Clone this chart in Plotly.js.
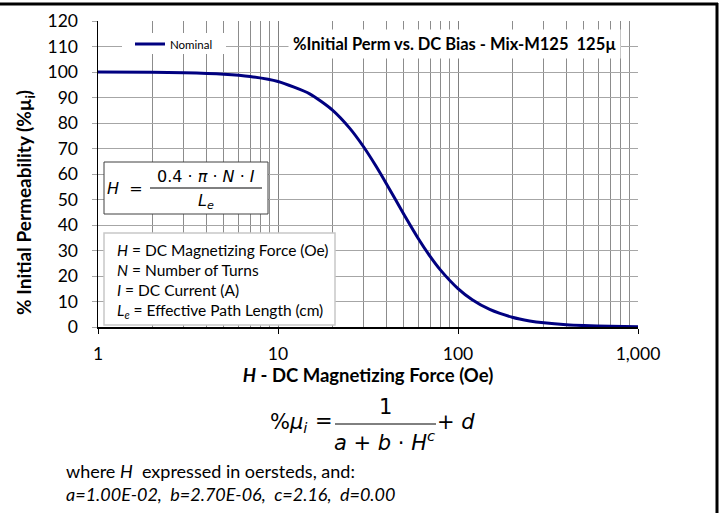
<!DOCTYPE html>
<html>
<head>
<meta charset="utf-8">
<script src="https://cdn.plot.ly/plotly-3.0.1.min.js"></script>
<style>html,body{margin:0;padding:0;background:#fff;}#chart{width:722px;height:513px;}</style>
</head>
<body>
<div id="chart"></div>
<script>
// Data
const H = [1, 2, 3, 5, 7, 10, 15, 20, 25, 30, 35, 40, 50, 60, 70, 80, 100, 120, 150, 200, 250, 300, 400, 500, 700, 1000];
const permNominal = [99.97, 99.88, 99.71, 99.13, 98.23, 96.25, 91.43, 85.15, 77.98, 70.49, 63.13, 56.21, 44.21, 34.83, 27.70, 22.30, 15.06, 10.68, 6.88, 3.82, 2.39, 1.63, 0.88, 0.55, 0.26, 0.12];
const seriesName = 'Nominal';
const xMajorTicks = [1, 10, 100, 1000];
const xMajorLabels = ['1', '10', '100', '1,000'];
const xMinorTicks = [2,3,4,5,6,7,8,9,20,30,40,50,60,70,80,90,200,300,400,500,600,700,800,900];
const chartTitle = '%Initial Perm vs. DC Bias - Mix-M125&nbsp;&nbsp;125µ';
const xTitle = '<b><i>H</i> - DC Magnetizing Force (Oe)</b>';
const yTitle = '<b>% Initial Permeability (%µ<sub>i</sub>)</b>';
const defLines = ['<i>H</i> = DC Magnetizing Force (Oe)', '<i>N</i> = Number of Turns', '<i>I</i> = DC Current (A)', '<i>L<sub>e</sub></i> = Effective Path Length (cm)'];
const noteLine1 = 'where <i>H</i>&nbsp; expressed in oersteds, and:';
const noteLine2 = '<i>a=1.00E-02,&nbsp; b=2.70E-06,&nbsp; c=2.16,&nbsp; d=0.00</i>';

// plot area in pixels
const L = 98, R = 638, T = 21, B = 327;
const px = x => (x - L) / (R - L);
const py = y => (B - y) / (B - T);

const FONT = 'Lato, "Open Sans", sans-serif';
const MATH = '"DejaVu Sans", Verdana, sans-serif';

function ann(text, x, y, opts) {
  return Object.assign({text: text, x: px(x), y: py(y), xref: 'paper', yref: 'paper', showarrow: false,
    xanchor: 'center', yanchor: 'middle', font: {family: FONT, size: 15, color: '#000'}}, opts || {});
}

const annotations = [
  ann('<b>' + chartTitle + '</b>', 454, 44, {font: {family: FONT, size: 16.5, color: '#000'}, bgcolor: '#fff', borderpad: 4}),
  // y axis title
  ann(yTitle, 25, 203, {textangle: -90, font: {family: FONT, size: 19, color: '#000'}}),
  // H formula
  ann('<i>H</i>&nbsp; =', 125, 188, {font: {family: MATH, size: 16, color: '#000'}}),
  ann('0.4&nbsp;·&nbsp;<i>π</i>&nbsp;·&nbsp;<i>N</i>&nbsp;·&nbsp;<i>I</i>', 206, 176, {font: {family: MATH, size: 16, color: '#000'}}),
  ann('<i>L<sub>e</sub></i>', 206, 201, {font: {family: MATH, size: 16, color: '#000'}}),
  // bottom formula
  ann('%<i>μ<sub>i</sub></i>', 289, 423, {font: {family: MATH, size: 21, color: '#000'}}),
  ann('=', 324, 421, {font: {family: MATH, size: 21, color: '#000'}}),
  ann('1', 385, 407, {font: {family: MATH, size: 21, color: '#000'}}),
  ann('<i>a</i> + <i>b</i> · <i>H<sup>c</sup></i>', 384, 441, {font: {family: MATH, size: 21, color: '#000'}}),
  ann('+ <i>d</i>', 456, 422, {font: {family: MATH, size: 21, color: '#000'}}),
  ann(noteLine1, 64, 471, {xanchor: 'left', font: {family: FONT, size: 18, color: '#000'}}),
  ann(noteLine2, 64, 494, {xanchor: 'left', font: {family: FONT, size: 18, color: '#000'}})
];
const defY = [250, 270, 290, 311];
defLines.forEach((t, i) => annotations.push(ann(t, 115, defY[i], {xanchor: 'left', font: {family: FONT, size: 15.5, color: '#000'}})));

const shapes = [
  // outer frame: top and right
  {type: 'line', xref: 'paper', yref: 'paper', x0: px(0), x1: px(718), y0: py(4), y1: py(4), line: {color: '#000', width: 3}},
  {type: 'line', xref: 'paper', yref: 'paper', x0: px(717), x1: px(717), y0: py(3), y1: py(513), line: {color: '#000', width: 3}},
  // legend white box
  {type: 'rect', xref: 'paper', yref: 'paper', x0: px(122), x1: px(226), y0: py(33), y1: py(54), fillcolor: '#fff', line: {width: 0}, layer: 'above'},
  // H formula box
  {type: 'rect', xref: 'paper', yref: 'paper', x0: px(104), x1: px(268), y0: py(162), y1: py(214), fillcolor: '#fff', line: {color: '#404040', width: 1}},
  {type: 'line', xref: 'paper', yref: 'paper', x0: px(150), x1: px(262), y0: py(188), y1: py(188), line: {color: '#000', width: 1}},
  // definitions box
  {type: 'rect', xref: 'paper', yref: 'paper', x0: px(104), x1: px(335), y0: py(233), y1: py(325), fillcolor: '#fff', line: {color: '#c8c8c8', width: 1.5}},
  // bottom fraction line
  {type: 'line', xref: 'paper', yref: 'paper', x0: px(335), x1: px(436), y0: py(424), y1: py(424), line: {color: '#000', width: 1}}
];

const trace = {x: H, y: permNominal, type: 'scatter', mode: 'lines', name: seriesName,
  line: {color: '#000080', width: 3, shape: 'spline', smoothing: 0.6}};

const layout = {
  width: 722, height: 513,
  margin: {l: L, r: 722 - R, t: T, b: 513 - B, pad: 0},
  paper_bgcolor: '#fff', plot_bgcolor: '#fff',
  font: {family: FONT, color: '#000'},
  showlegend: true,
  legend: {x: px(130), y: py(44), xanchor: 'left', yanchor: 'middle', bgcolor: 'rgba(0,0,0,0)', borderwidth: 0,
    font: {family: FONT, size: 11.5, color: '#000'}, itemwidth: 30, tracegroupgap: 0},
  xaxis: {
    type: 'log', range: [0, 3], tickvals: xMajorTicks, ticktext: xMajorLabels,
    showgrid: true, gridcolor: '#808080', gridwidth: 1,
    minor: {tickvals: xMinorTicks, showgrid: true, gridcolor: '#8c8c8c', gridwidth: 1, ticks: ''},
    showline: true, linecolor: '#000', linewidth: 1.5, ticks: 'outside', ticklen: 5, tickcolor: '#000',
    ticklabelstandoff: 5,
    tickfont: {family: FONT, size: 17.5, color: '#000'}, zeroline: false,
    title: {text: xTitle, font: {family: FONT, size: 18.5, color: '#000'}, standoff: 6},
    fixedrange: true
  },
  yaxis: {
    range: [0, 120], dtick: 10, tick0: 0,
    showgrid: true, gridcolor: '#a6a6a6', gridwidth: 1,
    showline: true, linecolor: '#000', linewidth: 1.5, ticks: 'outside', ticklen: 5, tickcolor: '#a6a6a6',
    ticklabelstandoff: 10,
    tickfont: {family: FONT, size: 17.5, color: '#000'}, zeroline: false,
    fixedrange: true
  },
  annotations: annotations,
  shapes: shapes
};

Plotly.newPlot('chart', [trace], layout, {displayModeBar: false, staticPlot: true});
</script>
</body>
</html>
